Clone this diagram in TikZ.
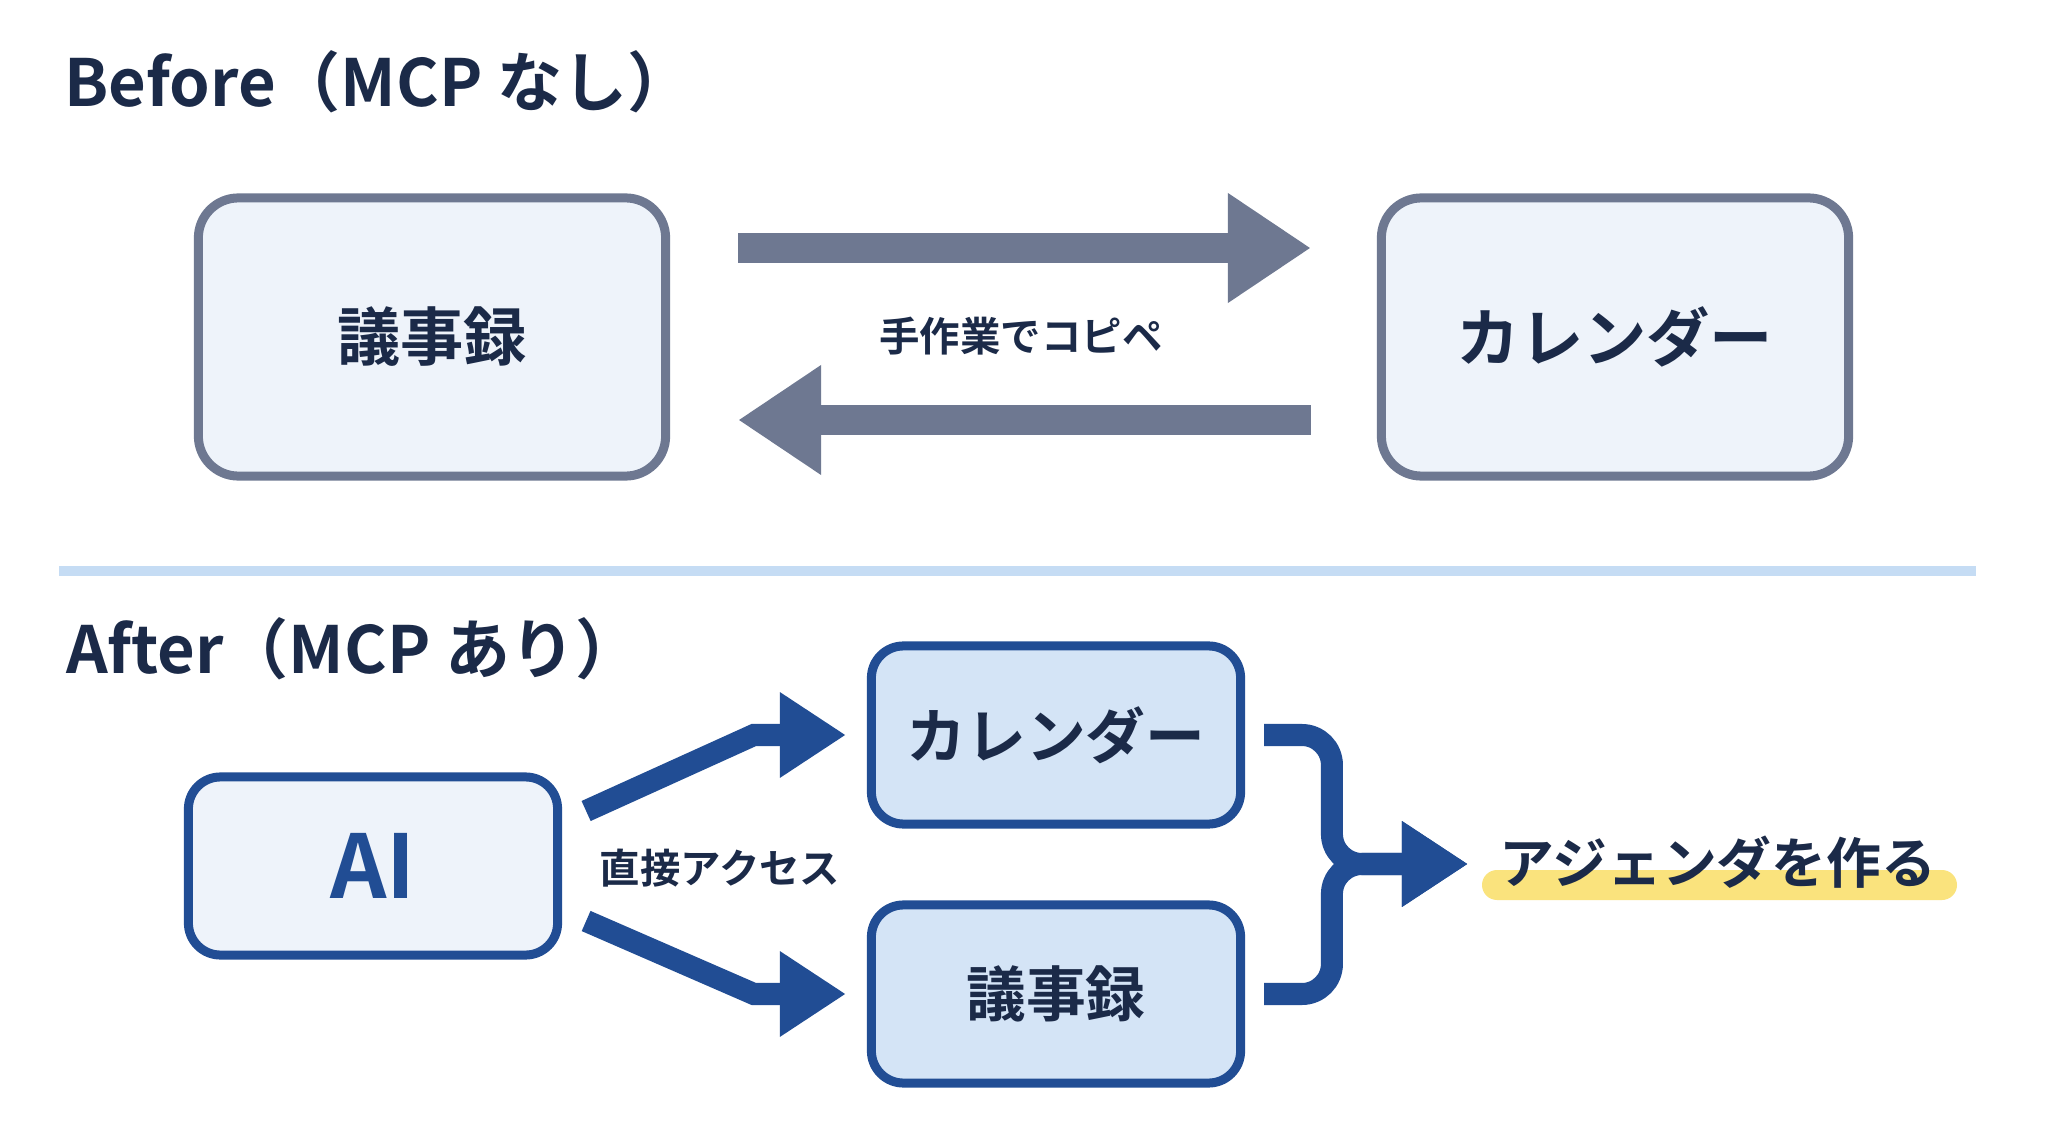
\documentclass[tikz,border=0pt]{standalone}
\usepackage{fontspec}
\setmainfont{Noto Sans CJK JP}[BoldFont={Noto Sans CJK JP Bold}]
\usetikzlibrary{arrows.meta, positioning}
\definecolor{InkNavy}{RGB}{27, 42, 72}
\definecolor{SlateLine}{RGB}{110, 120, 145}
\definecolor{PaleFill}{RGB}{238, 243, 250}
\definecolor{DeepBlue}{RGB}{33, 77, 148}
\definecolor{SoftBlue}{RGB}{212, 228, 246}
\definecolor{RuleBlue}{RGB}{197, 220, 244}
\definecolor{MarkYellow}{RGB}{250, 227, 125}

\begin{document}
\begin{tikzpicture}[x=0.01cm, y=-0.01cm, font=\bfseries, text=InkNavy,
    oldbox/.style={draw=SlateLine, fill=PaleFill, line width=0.9mm, rounded corners=4mm,
        minimum width=4.67cm, minimum height=2.78cm, font=\fontsize{18}{21}\selectfont\bfseries},
    newbox/.style={draw=DeepBlue, fill=SoftBlue, line width=0.9mm, rounded corners=3.2mm,
        minimum width=3.69cm, minimum height=1.78cm, font=\fontsize{17}{20}\selectfont\bfseries},
    heading/.style={anchor=base west, font=\fontsize{18.5}{22}\selectfont\bfseries},
    tag/.style={font=\fontsize{11.5}{14}\selectfont\bfseries},
    copyarrow/.style={draw=SlateLine, line width=3mm, -{Triangle[length=8.3mm, width=10.4mm]}},
    linkarrow/.style={draw=DeepBlue, line width=2.2mm, -{Triangle[length=6.6mm, width=8.1mm]}}]
        % canvas
        \fill[white] (0,0) rectangle (2048,1143);
        \useasboundingbox (0,0) rectangle (2048,1143);
        % before: manual copy between the two tools
        \node[heading] (beforeTitle) at (52,107) {Before（MCP なし）};
        \node[oldbox] (oldMinutes) at (432,337) {議事録};
        \node[oldbox] (oldCalendar) at (1615,337) {カレンダー};
        \draw[copyarrow] ([shift={(68,-89)}]oldMinutes.east) -- ([shift={(-66,-89)}]oldCalendar.west);
        \draw[copyarrow] ([shift={(-66,83)}]oldCalendar.west) -- ([shift={(68,83)}]oldMinutes.east);
        \node[tag] (copyTag) at (1021,336) {手作業でコピペ};
        % divider
        \draw[RuleBlue, line width=0.9mm] (59,571) -- (1976,571);
        % after: AI reaches both directly
        \node[heading] (afterTitle) at (54,673) {After（MCP あり）};
        \node[newbox, fill=PaleFill, text=DeepBlue, font=\fontsize{25}{30}\selectfont\bfseries] (aiNode) at (373,866) {AI};
        \node[newbox] (newCalendar) at (1056,735) {カレンダー};
        \node[newbox] (newMinutes) at (1056,994) {議事録};
        \draw[linkarrow] ([shift={(24,-55)}]aiNode.east) -- ([xshift=-1.13cm]newCalendar.west) -- ([xshift=-0.21cm]newCalendar.west);
        \draw[linkarrow] ([shift={(24,55)}]aiNode.east) -- ([xshift=-1.13cm]newMinutes.west) -- ([xshift=-0.21cm]newMinutes.west);
        \node[tag] (accessTag) at (720,868) {直接アクセス};
        % merge into the result
        \coordinate (mergeTip) at (1468,864);
        \draw[linkarrow, rounded corners=3mm] ([xshift=0.19cm]newCalendar.east) -| ([xshift=-1.36cm]mergeTip) -- (mergeTip);
        \draw[linkarrow, rounded corners=3mm] ([xshift=0.19cm]newMinutes.east) -| ([xshift=-1.36cm]mergeTip) -- (mergeTip);
        \fill[MarkYellow, rounded corners=1.5mm] (1482,870) rectangle (1957,900);
        \node[font=\fontsize{15.6}{18}\selectfont\bfseries] (goalText) at (1718,862) {アジェンダを作る};
\end{tikzpicture}
\end{document}
